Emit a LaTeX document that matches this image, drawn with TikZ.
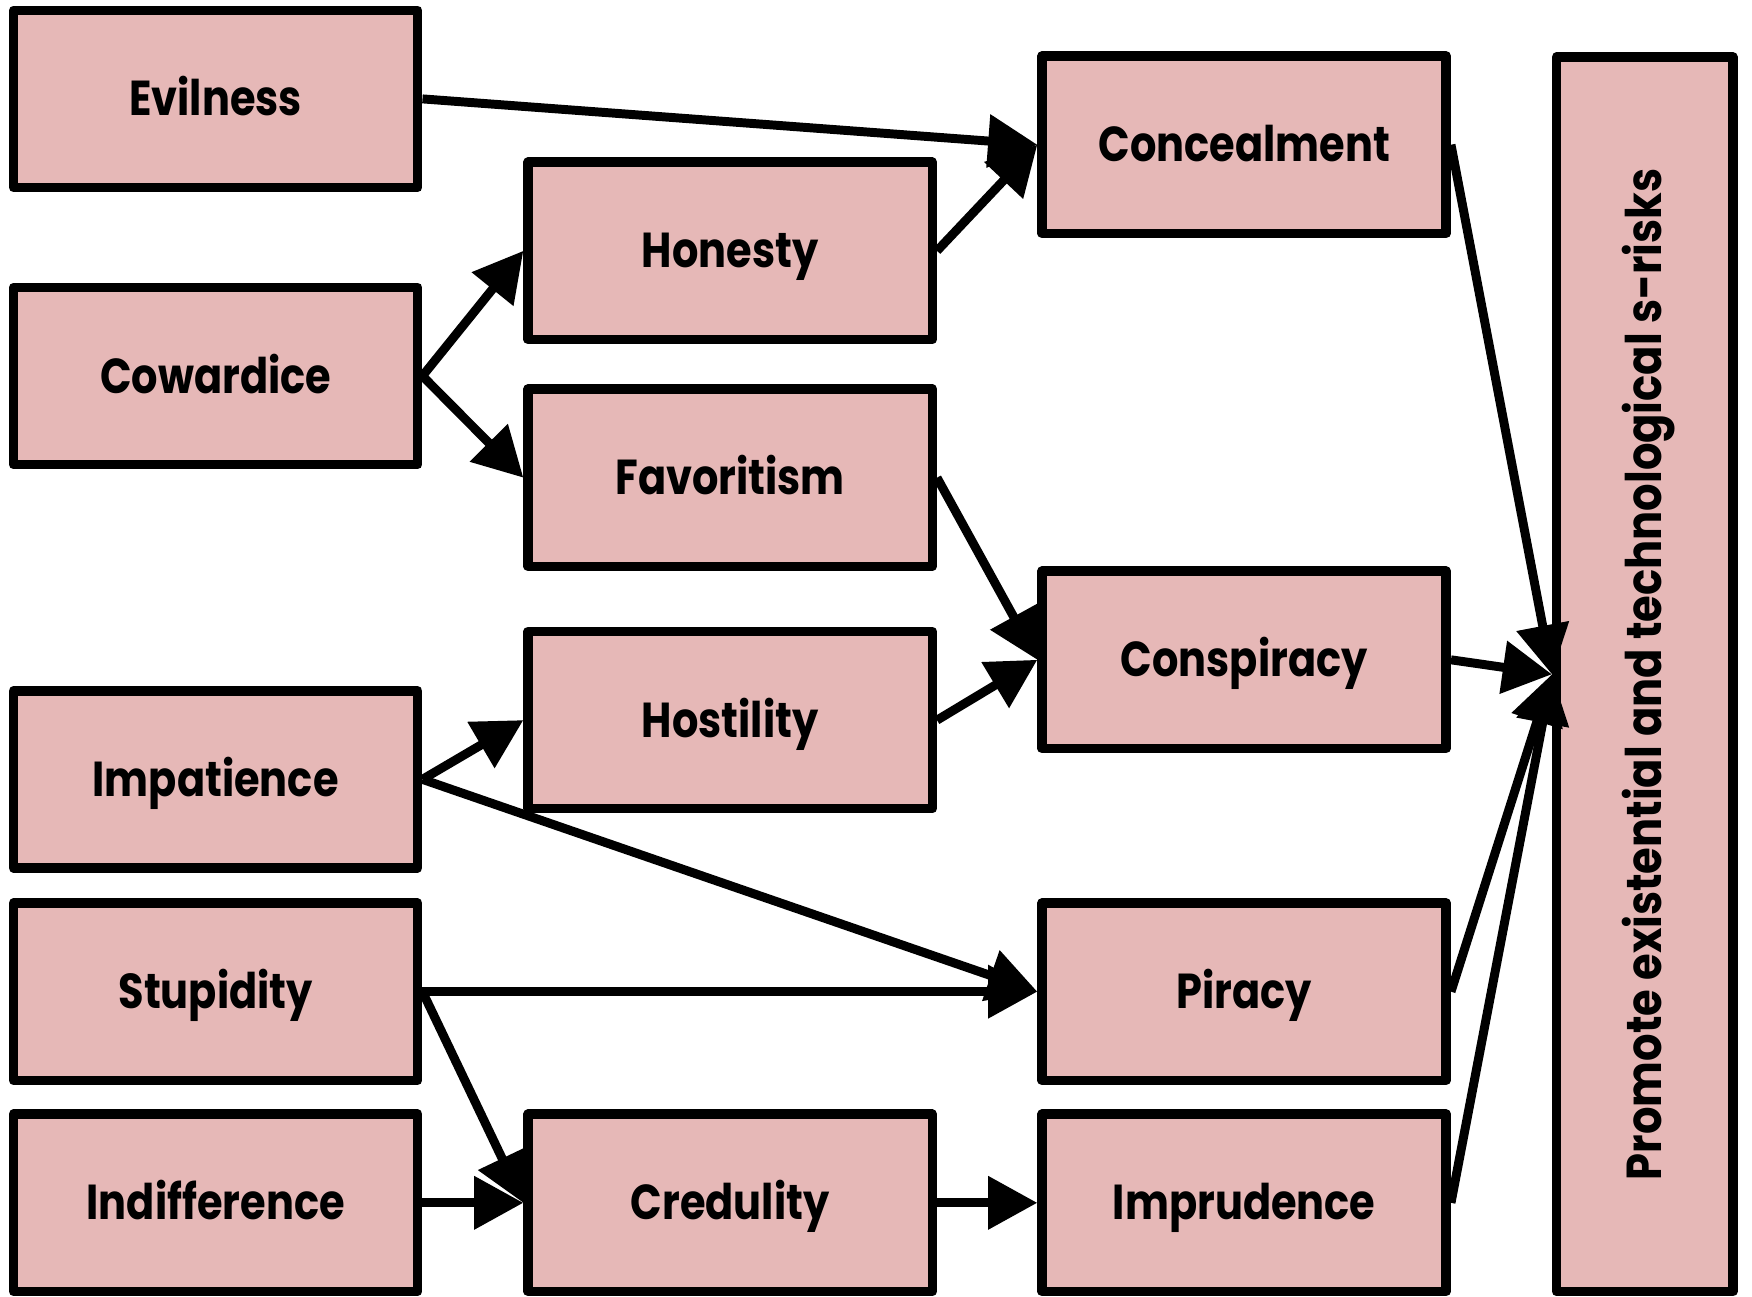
\documentclass[tikz,border=0pt]{standalone}
\usepackage{fontspec}
\setmainfont{Poppins}[FakeStretch=0.88]
\newfontfamily\boxfont{Poppins}[FakeStretch=0.845]
\usetikzlibrary{arrows.meta}
\definecolor{boxfill}{HTML}{E6B8B7}
\tikzset{
  vbox/.style={draw=black, fill=boxfill, line width=0.085cm, line join=round,
    minimum width=3.615cm, minimum height=1.585cm, inner sep=0pt,
    text height=8.7pt, text depth=0pt,
    font=\boxfont\fontsize{12.5}{15}\selectfont\bfseries},
  tallbox/.style={draw=black, fill=boxfill, line width=0.085cm, line join=round,
    minimum width=1.575cm, minimum height=11.045cm, inner sep=0pt},
  arr/.style={line width=0.08cm, -{Triangle[length=0.44cm,width=0.46cm]}}
}
\begin{document}
\begin{tikzpicture}[x=0.01cm,y=-0.01cm]
\useasboundingbox (0,0) rectangle (1568,1160);
% left column
\node[vbox] (evil) at (193,88.5) {Evilness};
\node[vbox] (coward) at (193,336.5) {Cowardice};
\node[vbox] (impat) at (193,697.5) {Impatience};
\node[vbox] (stupid) at (193,887.5) {Stupidity};
\node[vbox] (indiff) at (193,1076.5) {Indifference};
% middle column
\node[vbox] (honest) at (653.5,224.5) {Honesty};
\node[vbox] (favor) at (653.5,427.5) {Favoritism};
\node[vbox] (hostil) at (653.5,644.5) {Hostility};
\node[vbox] (credul) at (653.5,1076.5) {Credulity};
% right column
\node[vbox] (conceal) at (1113.5,129.5) {Concealment};
\node[vbox] (consp) at (1113.5,590.5) {Conspiracy};
\node[vbox] (piracy) at (1113.5,887.5) {Piracy};
\node[vbox] (imprud) at (1113.5,1076.5) {Imprudence};
% tall box
\node[tallbox] (promote) at (1472,603.5) {};
\node[rotate=90, text height=8.7pt, text depth=0pt, font=\fontsize{12.5}{15}\selectfont\bfseries] (ptext) at (promote.center) {Promote existential and technological s-risks};
% connectors
\draw[arr] (evil.east) -- (conceal.west);
\draw[arr] (coward.east) -- (honest.west);
\draw[arr] (coward.east) -- (favor.west);
\draw[arr] (honest.east) -- (conceal.west);
\draw[arr] (favor.east) -- (consp.west);
\draw[arr] (hostil.east) -- (consp.west);
\draw[arr] (impat.east) -- (hostil.west);
\draw[arr] (impat.east) -- (piracy.west);
\draw[arr] (stupid.east) -- (piracy.west);
\draw[arr] (stupid.east) -- (credul.west);
\draw[arr] (indiff.east) -- (credul.west);
\draw[arr] (credul.east) -- (imprud.west);
\draw[arr] (conceal.east) -- (promote.west);
\draw[arr] (consp.east) -- (promote.west);
\draw[arr] (piracy.east) -- (promote.west);
\draw[arr] (imprud.east) -- (promote.west);
\end{tikzpicture}
\end{document}
